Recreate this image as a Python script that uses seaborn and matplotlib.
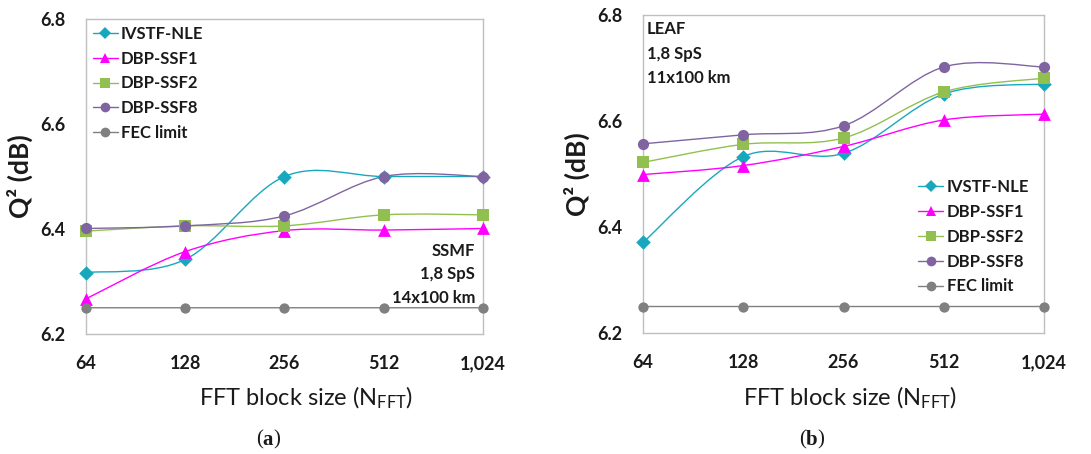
import numpy as np
import pandas as pd
import matplotlib
matplotlib.use("Agg")
import matplotlib.pyplot as plt
from matplotlib.path import Path
from matplotlib.patches import PathPatch
from matplotlib.lines import Line2D
from matplotlib.transforms import offset_copy
import seaborn as sns

# ---------------- data ----------------
fft_sizes = ["64", "128", "256", "512", "1,024"]
series_names = ["IVSTF-NLE", "DBP-SSF1", "DBP-SSF2", "DBP-SSF8", "FEC limit"]

# panel (a): SSMF, 1,8 SpS, 14x100 km
a_ivstf = [6.317, 6.342, 6.500, 6.500, 6.500]
a_ssf1 = [6.267, 6.357, 6.397, 6.398, 6.401]
a_ssf2 = [6.396, 6.406, 6.406, 6.427, 6.427]
a_ssf8 = [6.401, 6.406, 6.425, 6.500, 6.500]
a_fec = [6.25, 6.25, 6.25, 6.25, 6.25]

# panel (b): LEAF, 1,8 SpS, 11x100 km
b_ivstf = [6.371, 6.533, 6.539, 6.651, 6.670]
b_ssf1 = [6.499, 6.516, 6.552, 6.602, 6.613]
b_ssf2 = [6.522, 6.556, 6.568, 6.655, 6.681]
b_ssf8 = [6.557, 6.574, 6.591, 6.702, 6.702]
b_fec = [6.25, 6.25, 6.25, 6.25, 6.25]

y_ticks = [6.2, 6.4, 6.6, 6.8]
a_note = ["SSMF", "1,8 SpS", "14x100 km"]
b_note = ["LEAF", "1,8 SpS", "11x100 km"]

# ---------------- style ----------------
colors = {"IVSTF-NLE": "#18A8BE", "DBP-SSF1": "#FF00FF", "DBP-SSF2": "#92C050",
          "DBP-SSF8": "#8064A2", "FEC limit": "#808080"}
markers = {"IVSTF-NLE": "D", "DBP-SSF1": "^", "DBP-SSF2": "s",
           "DBP-SSF8": "o", "FEC limit": "o"}
sizes = {"IVSTF-NLE": 55, "DBP-SSF1": 85, "DBP-SSF2": 65,
         "DBP-SSF8": 65, "FEC limit": 55}

sns.set_theme(style="white")
plt.rcParams["font.family"] = ["Lato", "DejaVu Sans"]
plt.rcParams["mathtext.fontset"] = "custom"
plt.rcParams["mathtext.rm"] = "Lato"
plt.rcParams["mathtext.it"] = "Lato:italic"
plt.rcParams["mathtext.bf"] = "Lato:bold"

TXT = "#1a1a1a"


def build_df(vals):
    rows = []
    for name, v in zip(series_names, vals):
        for i, y in enumerate(v):
            rows.append({"pos": i, "q2": y, "series": name})
    return pd.DataFrame(rows)


def smooth_path(x, y):
    # Excel-like smoothed line: cubic Bezier through the data points
    pts = np.column_stack([x, y]).astype(float)
    n = len(pts)
    verts = [pts[0]]
    codes = [Path.MOVETO]
    for i in range(n - 1):
        p0 = pts[i - 1] if i > 0 else pts[i]
        p1 = pts[i]
        p2 = pts[i + 1]
        p3 = pts[i + 2] if i + 2 < n else pts[i + 1]
        c1 = p1 + (p2 - p0) / 6.0
        c2 = p2 - (p3 - p1) / 6.0
        verts += [c1, c2, p2]
        codes += [Path.CURVE4] * 3
    return Path(verts, codes)


def draw_panel(ax, vals):
    df = build_df(vals)
    for name, v in zip(series_names, vals):
        patch = PathPatch(smooth_path(np.arange(len(v)), v), facecolor="none",
                          edgecolor=colors[name], lw=1.0, zorder=2,
                          transform=ax.transData)
        ax.add_patch(patch)
    for name in series_names:
        sub = df[df.series == name]
        sns.scatterplot(data=sub, x="pos", y="q2", ax=ax, color=colors[name],
                        marker=markers[name], s=sizes[name], linewidth=0,
                        legend=False, zorder=3, clip_on=False)
    ax.set_xlim(0, 4)
    ax.set_ylim(6.2, 6.8)
    ax.set_xticks(range(len(fft_sizes)))
    ax.set_xticklabels(fft_sizes)
    ax.set_yticks(y_ticks)
    ax.set_yticklabels([f"{t:.1f}" for t in y_ticks])
    ax.tick_params(axis="both", length=0, labelsize=13, colors=TXT)
    ax.tick_params(axis="x", pad=15)
    ax.tick_params(axis="y", pad=15)
    for lab in ax.get_xticklabels() + ax.get_yticklabels():
        lab.set_fontweight("bold")
    for sp in ax.spines.values():
        sp.set_color("#BFBFBF")
        sp.set_linewidth(1.0)
    ax.set_xlabel("")
    ax.set_ylabel("Q² (dB)", fontsize=19, fontweight="bold", color=TXT, labelpad=5)
    ax.grid(False)

    handles = [Line2D([0], [0], color=colors[n], lw=1.0, marker=markers[n],
                      markersize=7 if n != "IVSTF-NLE" else 6,
                      markeredgewidth=0, label=n) for n in series_names]
    return handles


fig = plt.figure(figsize=(10.91, 4.54), dpi=100)
ax1 = fig.add_axes([0.0788, 0.2643, 0.3639, 0.6938])
ax2 = fig.add_axes([0.5894, 0.2665, 0.3676, 0.7004])

h1 = draw_panel(ax1, [a_ivstf, a_ssf1, a_ssf2, a_ssf8, a_fec])
h2 = draw_panel(ax2, [b_ivstf, b_ssf1, b_ssf2, b_ssf8, b_fec])

leg_kw = dict(frameon=False, handlelength=1.5, handletextpad=0.2,
              labelspacing=0.53, borderpad=0.2, borderaxespad=0.2,
              prop={"family": "Lato", "weight": "bold", "size": 12})
l1 = ax1.legend(handles=h1, loc="upper left", bbox_to_anchor=(0.0, 1.0), **leg_kw)
for t in l1.get_texts():
    t.set_color(TXT)
l2 = ax2.legend(handles=h2, loc="upper left", bbox_to_anchor=(0.67, 0.505), **leg_kw)
for t in l2.get_texts():
    t.set_color(TXT)

# annotations
for i, line in enumerate(a_note):
    ax1.text(0.98, 0.265 - i * 0.076, line, transform=ax1.transAxes, ha="right",
             va="center", fontsize=12, fontweight="bold", color=TXT)
for i, line in enumerate(b_note):
    ax2.text(0.01, 0.955 - i * 0.076, line, transform=ax2.transAxes, ha="left",
             va="center", fontsize=12, fontweight="bold", color=TXT)

# x labels
fig.text(306 / 1091, 1 - 398 / 454, "FFT block size (N$_{\\mathrm{FFT}}$)",
         ha="center", va="center", fontsize=17, color=TXT)
fig.text(850 / 1091, 1 - 398 / 454, "FFT block size (N$_{\\mathrm{FFT}}$)",
         ha="center", va="center", fontsize=17, color=TXT)

# panel captions "(a)" / "(b)" with bold letter in a serif face
fig.canvas.draw()
renderer = fig.canvas.get_renderer()
for cx, letter in [(268, "a"), (812, "b")]:
    parts = [("(", "normal"), (letter, "bold"), (")", "normal")]
    texts = []
    widths = []
    for s, w in parts:
        t = fig.text(0, 0, s, fontsize=15, family="Liberation Serif",
                     fontweight=w, color=TXT, va="center", ha="left")
        texts.append(t)
        widths.append(t.get_window_extent(renderer).width)
    total = sum(widths)
    x = cx - total / 2
    for t, wdt in zip(texts, widths):
        t.set_position((x / 1091, 1 - 440 / 454))
        x += wdt

fig.savefig("out.png", dpi=100, facecolor="white")
